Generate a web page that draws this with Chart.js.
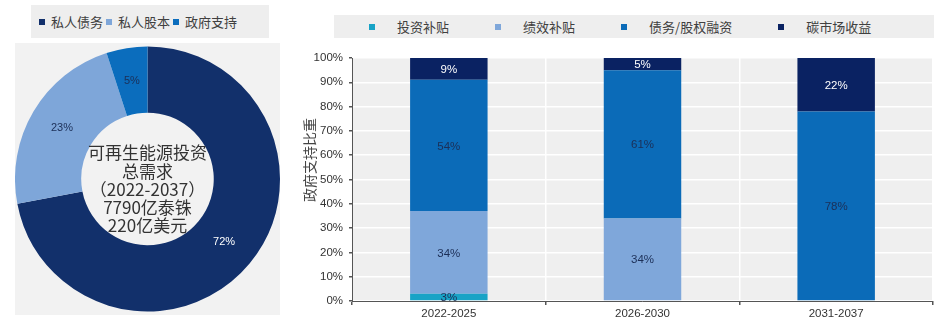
<!DOCTYPE html>
<html lang="zh-CN">
<head>
<meta charset="utf-8">
<title>可再生能源投资需求与政府支持比重</title>
<script src="https://cdn.jsdelivr.net/npm/chart.js@4.4.1/dist/chart.umd.min.js"></script>
<style>
    html, body {
        margin: 0;
        padding: 0;
        width: 952px;
        height: 324px;
        overflow: hidden;
        background: #ffffff;
        font-family: 'Noto Sans CJK SC', 'Noto Sans', sans-serif;
    }
    .legend {
        position: absolute;
        display: flex;
        align-items: center;
        box-sizing: border-box;
        background: #eeeeee;
        font-size: 13px;
        color: #404040;
        white-space: nowrap;
    }
    .legend-item { display: flex; align-items: center; }
    .legend-box { width: 6px; height: 6px; flex: none; }
    #donutLegend { left: 31px; top: 5px; width: 238px; height: 33px; padding-left: 8px; }
    #donutLegend .legend-box { margin-right: 6px; }
    #donutLegend .legend-item { margin-right: 3px; }
    #barLegend { left: 334px; top: 15px; width: 600px; height: 23px; padding-left: 35px; }
    #barLegend .legend-box { margin-right: 22px; }
    #barLegend .legend-item { margin-right: 46px; }
    #donutWrap { position: absolute; left: 15px; top: 43px; width: 265px; height: 272px; background: #f2f2f2; }
    #barWrap { position: absolute; left: 290px; top: 45px; width: 662px; height: 279px; }
</style>
</head>
<body>
<div id="donutLegend" class="legend"></div>
<div id="donutWrap"><canvas id="donutChart" width="265" height="272"></canvas></div>
<div id="barLegend" class="legend"></div>
<div id="barWrap"><canvas id="barChart" width="662" height="279"></canvas></div>

<script>
// 左图：可再生能源投资总需求的资金来源
const donutLabels = ['私人债务', '私人股本', '政府支持'];
const donutValues = [72, 23, 5];
const centerLines = ['可再生能源投资', '总需求', '（2022-2037）', '7790亿泰铢', '220亿美元'];

// 右图：政府支持比重
const periods = ['2022-2025', '2026-2030', '2031-2037'];
const seriesNames = ['投资补贴', '绩效补贴', '债务/股权融资', '碳市场收益'];
const investSubsidy = [3, 0, 0];
const performanceSubsidy = [34, 34, 0];
const debtEquity = [54, 61, 78];
const carbonMarket = [9, 5, 22];
const yTicks = [0, 10, 20, 30, 40, 50, 60, 70, 80, 90, 100];
const yTitle = '政府支持比重';

const donutColors = ['#12306b', '#7ea6d9', '#0b6dbd'];
const donutTextColors = ['#ffffff', '#1c2f57', '#1c2f57'];
const barColors = ['#18a3c6', '#7fa7da', '#0b6bb8', '#0a2262'];
const barTextColors = ['#1c2f57', '#1c2f57', '#1c2f57', '#ffffff'];

const NARROW = "'Liberation Sans Narrow', 'Liberation Sans', Arial, sans-serif";
const CJK = "'Noto Sans CJK SC', 'Noto Sans', sans-serif";

function buildLegend(el, names, colors) {
    el.innerHTML = names.map((name, i) => `
        <span class="legend-item">
            <span class="legend-box" style="background:${colors[i]}"></span>
            <span>${name}</span>
        </span>`).join('');
}

// 环形图扇区上的百分比
const donutValueLabels = {
    id: 'donutValueLabels',
    afterDatasetsDraw(chart) {
        const ctx = chart.ctx;
        const meta = chart.getDatasetMeta(0);
        ctx.save();
        ctx.font = `11px ${NARROW}`;
        ctx.textAlign = 'center';
        ctx.textBaseline = 'middle';
        meta.data.forEach((arc, i) => {
            const pos = arc.tooltipPosition(true);
            ctx.fillStyle = donutTextColors[i];
            ctx.fillText(donutValues[i] + '%', pos.x, pos.y);
        });
        ctx.restore();
    }
};

// 环形图中心文字
const centerText = {
    id: 'centerText',
    afterDraw(chart) {
        const { ctx, chartArea } = chart;
        const cx = (chartArea.left + chartArea.right) / 2;
        const cy = (chartArea.top + chartArea.bottom) / 2;
        ctx.save();
        ctx.font = `17px ${CJK}`;
        ctx.fillStyle = '#333333';
        ctx.textAlign = 'center';
        ctx.textBaseline = 'middle';
        centerLines.forEach((line, i) => {
            ctx.fillText(line, cx, cy - 26 + i * 18.2);
        });
        ctx.restore();
    }
};

// 绘图区灰色背景
const plotBackground = {
    id: 'plotBackground',
    beforeDraw(chart) {
        const { ctx, chartArea } = chart;
        ctx.save();
        ctx.fillStyle = '#efefef';
        ctx.fillRect(chartArea.left, chartArea.top, chartArea.width, chartArea.height);
        ctx.restore();
    }
};

// 堆叠柱中的百分比
const barValueLabels = {
    id: 'barValueLabels',
    afterDatasetsDraw(chart) {
        const ctx = chart.ctx;
        ctx.save();
        ctx.font = `11.5px ${NARROW}`;
        ctx.textAlign = 'center';
        ctx.textBaseline = 'middle';
        chart.data.datasets.forEach((ds, di) => {
            chart.getDatasetMeta(di).data.forEach((bar, i) => {
                const v = ds.data[i];
                if (!v) return;
                const { x, y, base } = bar.getProps(['x', 'y', 'base'], true);
                ctx.fillStyle = barTextColors[di];
                ctx.fillText(v + '%', x, (y + base) / 2 + 1);
            });
        });
        ctx.restore();
    }
};

// 纵轴标题（位置偏上，自行绘制）
const yAxisTitle = {
    id: 'yAxisTitle',
    afterDraw(chart) {
        const ctx = chart.ctx;
        ctx.save();
        ctx.translate(20, 115);
        ctx.rotate(-Math.PI / 2);
        ctx.font = `14px ${CJK}`;
        ctx.fillStyle = '#444444';
        ctx.textAlign = 'center';
        ctx.textBaseline = 'middle';
        ctx.fillText(yTitle, 0, 0);
        ctx.restore();
    }
};

function initDonut() {
    new Chart(document.getElementById('donutChart'), {
        type: 'doughnut',
        data: {
            labels: donutLabels,
            datasets: [{
                data: donutValues,
                backgroundColor: donutColors,
                borderWidth: 0,
                hoverOffset: 0
            }]
        },
        options: {
            responsive: false,
            animation: false,
            cutout: '50%',
            layout: { padding: 0 },
            plugins: {
                legend: { display: false },
                tooltip: { enabled: false }
            }
        },
        plugins: [donutValueLabels, centerText]
    });
}

function initBars() {
    const seriesData = [investSubsidy, performanceSubsidy, debtEquity, carbonMarket];
    const tickFont = { family: NARROW, size: 11.5 };

    new Chart(document.getElementById('barChart'), {
        type: 'bar',
        data: {
            labels: periods,
            datasets: seriesNames.map((name, i) => ({
                label: name,
                data: seriesData[i],
                backgroundColor: barColors[i],
                borderWidth: 0,
                categoryPercentage: 1,
                barPercentage: 0.4
            }))
        },
        options: {
            responsive: false,
            animation: false,
            layout: { padding: { top: 13, right: 19, left: 0, bottom: 0 } },
            plugins: {
                legend: { display: false },
                tooltip: { enabled: false }
            },
            scales: {
                x: {
                    stacked: true,
                    grid: { color: '#ffffff', lineWidth: 1.5, offset: true, tickColor: '#555555', tickLength: 4 },
                    border: { color: '#555555', width: 1 },
                    ticks: { font: tickFont, color: '#333333', padding: 2 },
                    afterFit: scale => { scale.height = 23; }
                },
                y: {
                    stacked: true,
                    min: 0,
                    max: 100,
                    afterBuildTicks: scale => { scale.ticks = yTicks.map(v => ({ value: v })); },
                    grid: { color: '#ffffff', lineWidth: 1.5, tickColor: '#555555', tickLength: 3 },
                    border: { color: '#555555', width: 1 },
                    ticks: { font: tickFont, color: '#333333', padding: 6, callback: v => v + '%' },
                    afterFit: scale => { scale.width = 62; }
                }
            }
        },
        plugins: [plotBackground, barValueLabels, yAxisTitle]
    });
}

document.addEventListener('DOMContentLoaded', () => {
    buildLegend(document.getElementById('donutLegend'), donutLabels, donutColors);
    buildLegend(document.getElementById('barLegend'), seriesNames, barColors);
    initDonut();
    initBars();
});
</script>
</body>
</html>
